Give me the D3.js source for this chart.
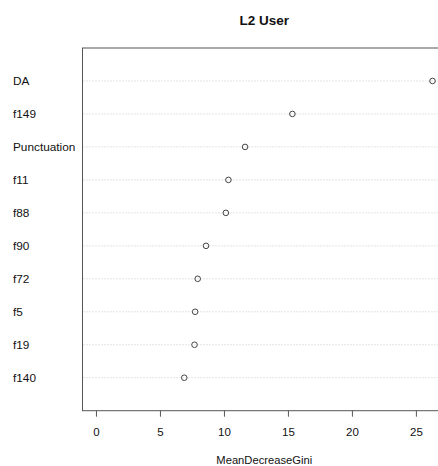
<!DOCTYPE html>
<html>
<head>
<meta charset="utf-8">
<script src="https://cdn.jsdelivr.net/npm/d3@7"></script>
<style>
  html, body { margin: 0; padding: 0; background: #fff; }
  svg { display: block; font-family: "Liberation Sans", Arial, Helvetica, sans-serif; }
</style>
</head>
<body>
<svg id="chart" width="438" height="466"></svg>
<script>
// Variable importance (random forest), ordered from most to least important
const features = ["DA", "f149", "Punctuation", "f11", "f88", "f90", "f72", "f5", "f19", "f140"];
const giniValues = [26.3, 15.35, 11.65, 10.35, 10.15, 8.6, 7.95, 7.75, 7.7, 6.9];
const xTicks = [0, 5, 10, 15, 20, 25];
const chartTitle = "L2 User";
const xTitle = "MeanDecreaseGini";

const svg = d3.select("#chart");
const box = { left: 82.5, right: 446, top: 48, bottom: 410.7 };

// x domain from 0 to max, padded 4% on each side
const xMax = d3.max(giniValues);
const pad = xMax * 0.04;
const x = d3.scaleLinear().domain([-pad, xMax + pad]).range([box.left, box.right]);

// rows: first feature at top; axis runs 0..n+1
const n = features.length;
const y = d3.scaleLinear().domain([0, n + 1]).range([box.bottom, box.top]);
const rowPos = (i) => y(n - i);

// title
svg.append("text")
  .attr("x", (box.left + box.right) / 2)
  .attr("y", 25)
  .attr("text-anchor", "middle")
  .attr("font-weight", "bold")
  .attr("font-size", 13.5)
  .attr("fill", "#111")
  .text(chartTitle);

// dotted guide lines
svg.append("g").selectAll("line")
  .data(features)
  .join("line")
  .attr("x1", box.left + 1)
  .attr("x2", box.right)
  .attr("y1", (d, i) => rowPos(i))
  .attr("y2", (d, i) => rowPos(i))
  .attr("stroke", "#c8c8c8")
  .attr("stroke-width", 1)
  .attr("stroke-dasharray", "1,2");

// plot frame
svg.append("rect")
  .attr("x", box.left)
  .attr("y", box.top)
  .attr("width", box.right - box.left)
  .attr("height", box.bottom - box.top)
  .attr("fill", "none")
  .attr("stroke", "#555")
  .attr("stroke-width", 1);

// feature labels
svg.append("g").selectAll("text")
  .data(features)
  .join("text")
  .attr("x", 13)
  .attr("y", (d, i) => rowPos(i))
  .attr("dy", "0.35em")
  .attr("font-size", 11.8)
  .attr("fill", "#111")
  .text(d => d);

// points
svg.append("g").selectAll("circle")
  .data(giniValues)
  .join("circle")
  .attr("cx", d => x(d))
  .attr("cy", (d, i) => rowPos(i))
  .attr("r", 2.8)
  .attr("fill", "none")
  .attr("stroke", "#444")
  .attr("stroke-width", 1);

// bottom axis
const xAxis = d3.axisBottom(x).tickValues(xTicks).tickSize(6).tickPadding(11).tickFormat(d3.format("d"));
const axisG = svg.append("g")
  .attr("transform", `translate(0,${box.bottom})`)
  .call(xAxis);
axisG.select(".domain").remove();
axisG.selectAll(".tick line").attr("stroke", "#555");
axisG.selectAll(".tick text")
  .attr("font-size", 11.5)
  .attr("font-family", "'Liberation Sans', Arial, sans-serif")
  .attr("fill", "#111");

// axis title
svg.append("text")
  .attr("x", (box.left + box.right) / 2)
  .attr("y", 464)
  .attr("text-anchor", "middle")
  .attr("font-size", 11.2)
  .attr("fill", "#111")
  .text(xTitle);
</script>
</body>
</html>
